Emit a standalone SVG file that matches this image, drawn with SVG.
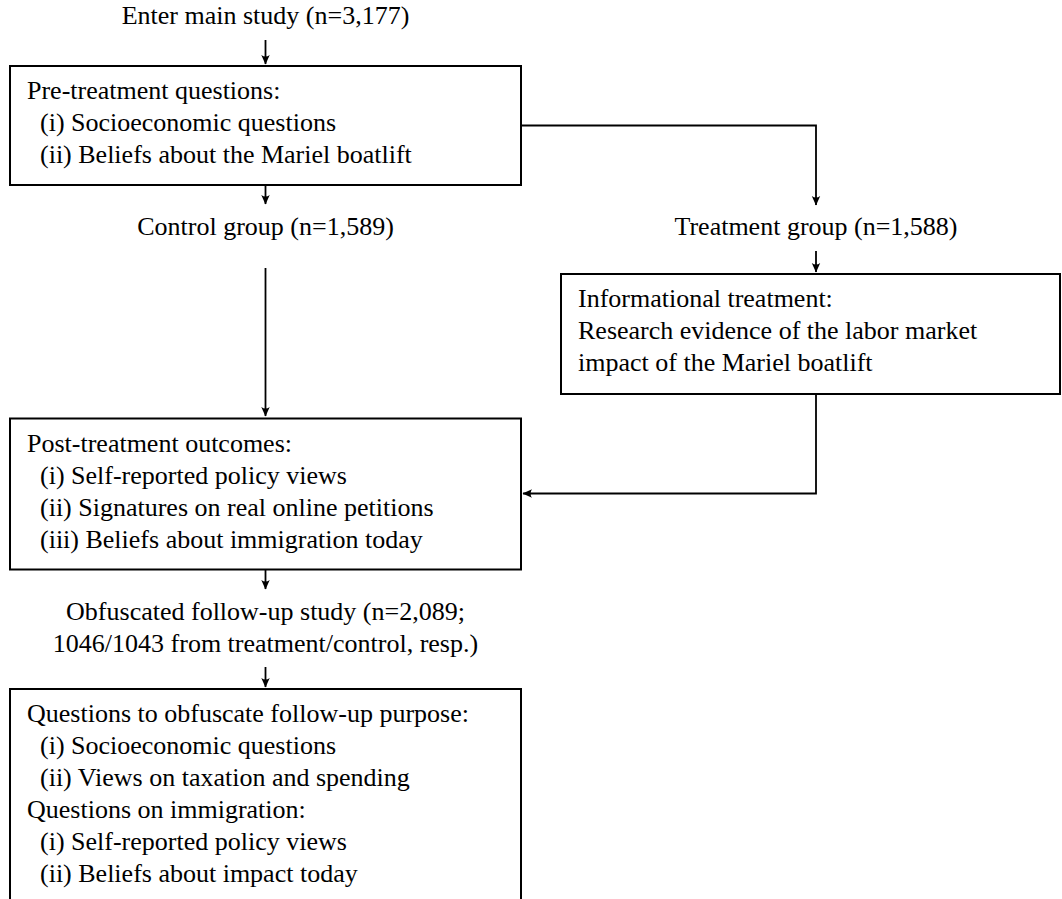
<svg xmlns="http://www.w3.org/2000/svg" width="1062" height="899" viewBox="0 0 1062 899">
<style>
text{font-family:"Liberation Serif","Times New Roman",serif;font-size:26px;fill:#000}
.c{text-anchor:middle}
.box{fill:#fff;stroke:#000;stroke-width:2}
.conn{fill:none;stroke:#000;stroke-width:1.8}
</style>
<defs>
<marker id="ah" viewBox="-10 -5 11 10" refX="0" refY="0" markerWidth="11" markerHeight="10" markerUnits="userSpaceOnUse" orient="auto">
<path d="M0.5,0 L-9,-4.2 Q-6,0 -9,4.2 Z" fill="#000"/>
</marker>
</defs>
<rect width="1062" height="899" fill="#fff"/>
<g id="connectors">
<path class="conn" d="M265.5,40 V64" marker-end="url(#ah)"/>
<path class="conn" d="M265.5,185 V204" marker-end="url(#ah)"/>
<path class="conn" d="M521,125.5 H816 V205" marker-end="url(#ah)"/>
<path class="conn" d="M265.5,268 V416" marker-end="url(#ah)"/>
<path class="conn" d="M816,251 V272" marker-end="url(#ah)"/>
<path class="conn" d="M816,394 V493.5 H523" marker-end="url(#ah)"/>
<path class="conn" d="M265.5,570 V589" marker-end="url(#ah)"/>
<path class="conn" d="M265.5,667 V687" marker-end="url(#ah)"/>
</g>
<g id="enter">
<text class="c" x="265.5" y="24">Enter main study (n=3,177)</text>
</g>
<g id="pre">
<rect class="box" x="10" y="66" width="511" height="119"/>
<text x="27" y="99">Pre-treatment questions:</text>
<text x="40" y="131">(i) Socioeconomic questions</text>
<text x="40" y="163">(ii) Beliefs about the Mariel boatlift</text>
</g>
<g id="control">
<text class="c" x="265.5" y="235">Control group (n=1,589)</text>
</g>
<g id="treatment">
<text class="c" x="816" y="235">Treatment group (n=1,588)</text>
</g>
<g id="info">
<rect class="box" x="561" y="274" width="499" height="120"/>
<text x="578" y="307">Informational treatment:</text>
<text x="578" y="339">Research evidence of the labor market</text>
<text x="578" y="371">impact of the Mariel boatlift</text>
</g>
<g id="post">
<rect class="box" x="10" y="418.5" width="511" height="151"/>
<text x="27" y="451.5">Post-treatment outcomes:</text>
<text x="40" y="483.5">(i) Self-reported policy views</text>
<text x="40" y="515.5">(ii) Signatures on real online petitions</text>
<text x="40" y="547.5">(iii) Beliefs about immigration today</text>
</g>
<g id="obfuscated">
<text class="c" x="265.5" y="620">Obfuscated follow-up study (n=2,089;</text>
<text class="c" x="265.5" y="652">1046/1043 from treatment/control, resp.)</text>
</g>
<g id="followup">
<rect class="box" x="10" y="689" width="511" height="230"/>
<text x="27" y="722">Questions to obfuscate follow-up purpose:</text>
<text x="40" y="754">(i) Socioeconomic questions</text>
<text x="40" y="786">(ii) Views on taxation and spending</text>
<text x="27" y="818">Questions on immigration:</text>
<text x="40" y="850">(i) Self-reported policy views</text>
<text x="40" y="882">(ii) Beliefs about impact today</text>
</g>
</svg>
